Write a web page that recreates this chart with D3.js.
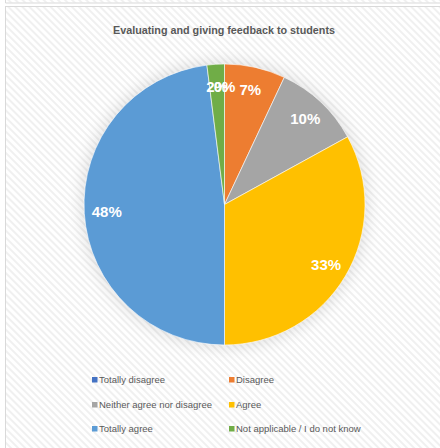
<!DOCTYPE html>
<html><head><meta charset="utf-8">
<script src="https://cdn.jsdelivr.net/npm/d3@7"></script>
<style>html,body{margin:0;padding:0;background:#fff;overflow:hidden}</style>
</head><body>
<script>
const categories = ["Totally disagree","Disagree","Neither agree nor disagree","Agree","Totally agree","Not applicable / I do not know"];
const values = [0, 7, 10, 33, 48, 2];
const colors = ["#4472C4","#ED7D31","#A5A5A5","#FFC000","#5B9BD5","#70AD47"];
const title = "Evaluating and giving feedback to students";

const W = 440, H = 448;
const svg = d3.select("body").append("svg").attr("width", W).attr("height", H);
const defs = svg.append("defs");
const pat = defs.append("pattern").attr("id","stripes").attr("patternUnits","userSpaceOnUse")
  .attr("width",5).attr("height",5).attr("patternTransform","rotate(-45)");
pat.append("rect").attr("width",5).attr("height",5).attr("fill","#ffffff");
pat.append("rect").attr("width",2).attr("height",5).attr("fill","#f0f0f0");
const f = defs.append("filter").attr("id","shadow").attr("x","-30%").attr("y","-30%").attr("width","160%").attr("height","160%");
f.append("feGaussianBlur").attr("stdDeviation",8);

// background & frames
svg.append("rect").attr("x",0).attr("y",0).attr("width",W).attr("height",H).attr("fill","#fff");
svg.append("rect").attr("x",6).attr("y",0).attr("width",W).attr("height",2.5).attr("fill","url(#stripes)");
svg.append("rect").attr("x",5.5).attr("y",6.5).attr("width",W).attr("height",H).attr("fill","url(#stripes)").attr("stroke","#d9d9d9").attr("stroke-width",1);
svg.append("line").attr("x1",5.5).attr("x2",W).attr("y1",3).attr("y2",3).attr("stroke","#d9d9d9");
svg.append("line").attr("x1",5.5).attr("x2",5.5).attr("y1",0).attr("y2",3).attr("stroke","#d9d9d9");

svg.append("text").attr("x",224).attr("y",34).attr("text-anchor","middle")
  .attr("font-family","Liberation Sans, Arial, sans-serif").attr("font-weight","bold")
  .attr("font-size",10.5).attr("fill","#595959").attr("textLength",222).attr("lengthAdjust","spacingAndGlyphs")
  .text(title);

const cx = 224.5, cy = 204.5, r = 140.5;
const data = categories.map((c,i)=>({cat:c, value:values[i], color:colors[i]}));
const pie = d3.pie().value(d=>d.value).sort(null);
const arcs = pie(data);
const arc = d3.arc().innerRadius(0).outerRadius(r);
const g = svg.append("g").attr("transform",`translate(${cx},${cy})`);
g.append("circle").attr("r",r+2).attr("fill","#000").attr("opacity",0.12).attr("filter","url(#shadow)");
g.selectAll("path.slice").data(arcs).enter().append("path").attr("class","slice")
  .attr("d",arc).attr("fill",d=>d.data.color).attr("stroke","#fff").attr("stroke-width",0.6);

const labelArc = d3.arc().innerRadius(r*0.84).outerRadius(r*0.84);
g.selectAll("text.lbl").data(arcs).enter().append("text").attr("class","lbl")
  .attr("transform",d=>`translate(${labelArc.centroid(d)})`)
  .attr("text-anchor","middle").attr("dy","0.36em")
  .attr("font-family","Liberation Sans, Arial, sans-serif").attr("font-weight","bold")
  .attr("font-size",15).attr("fill","#fff")
  .text(d=>d.data.value + "%");

// legend
const lg = svg.append("g");
const colX = [92, 229], rowY = [380, 405, 429];
data.forEach((d,i)=>{
  const x = colX[i%2], y = rowY[Math.floor(i/2)];
  lg.append("rect").attr("x",x).attr("y",y-3).attr("width",5.5).attr("height",5.5).attr("fill",d.color);
  lg.append("text").attr("x",x+7).attr("y",y).attr("dy","0.35em")
    .attr("font-family","Liberation Sans, Arial, sans-serif").attr("font-size",9.5).attr("fill","#595959")
    .text(d.cat);
});
</script>
</body></html>
